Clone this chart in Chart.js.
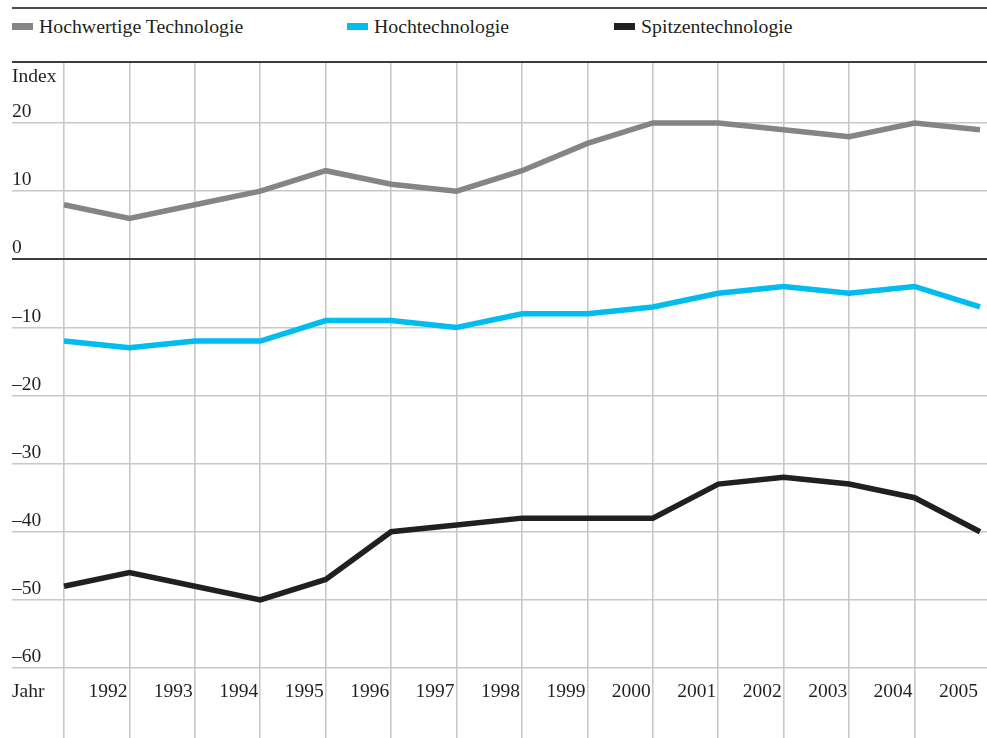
<!DOCTYPE html>
<html>
<head>
<meta charset="utf-8">
<script src="https://cdn.jsdelivr.net/npm/chart.js@4/dist/chart.umd.min.js"></script>
<style>
    body { margin: 0; background: #fff; }
    #wrap { position: relative; width: 987px; height: 738px; }
    #topline { position: absolute; left: 12px; right: 0; top: 7px; border-top: 2px solid #4a4a4a; }
    .leg { position: absolute; top: 15px; height: 22px; display: flex; align-items: center;
           font-family: 'Liberation Serif', 'Times New Roman', serif; font-size: 19.8px;
           color: #231f20; white-space: nowrap; }
    .leg i { display: inline-block; width: 21px; height: 7px; margin-right: 6px; }
    canvas { position: absolute; left: 0; top: 0; }
</style>
</head>
<body>
<div id="wrap">
    <div id="topline"></div>
    <div id="legend"></div>
    <canvas id="chart" width="987" height="738"></canvas>
</div>
<script>
const years = [1991, 1992, 1993, 1994, 1995, 1996, 1997, 1998, 1999, 2000, 2001, 2002, 2003, 2004, 2005];
const hochwertig = [8, 6, 8, 10, 13, 11, 10, 13, 17, 20, 20, 19, 18, 20, 19];
const hochtech = [-12, -13, -12, -12, -9, -9, -10, -8, -8, -7, -5, -4, -5, -4, -7];
const spitzen = [-48, -46, -48, -50, -47, -40, -39, -38, -38, -38, -33, -32, -33, -35, -40];
const yTicks = [-60, -50, -40, -30, -20, -10, 0, 10, 20];

const names = ['Hochwertige Technologie', 'Hochtechnologie', 'Spitzentechnologie'];
const colors = ['#848489', '#00bcef', '#231f20'];
const legendX = [12, 347, 614];

const FONT = { family: "'Liberation Serif', 'Times New Roman', serif", size: 19.5 };
const TEXT = '#231f20';
const GRID = '#c8c8c8';
const DARK = '#3c3c3c';
const Y_MAX = 28.954;
const Y_MIN = -70.275;

// legend as html
document.getElementById('legend').innerHTML = names.map((n, i) =>
    `<div class="leg" style="left:${legendX[i]}px"><i style="background:${colors[i]}"></i>${n}</div>`).join('');

const pts = arr => years.map((y, i) => ({ x: y, y: arr[i] }));

// year labels sit right-aligned on their grid line, under the -60 line
const axisText = {
    id: 'axisText',
    afterDraw(chart) {
        const c = chart.ctx;
        const xs = chart.scales.x;
        c.save();
        c.font = `${FONT.size}px ${FONT.family}`;
        c.fillStyle = TEXT;
        c.textBaseline = 'alphabetic';
        c.textAlign = 'left';
        c.fillText('Index', 12, 82);
        c.fillText('Jahr', 12, 697);
        c.textAlign = 'right';
        years.slice(1).forEach(y => c.fillText(String(y), xs.getPixelForValue(y) - 2, 697));
        c.restore();
    }
};

const noPad = s => { s.paddingTop = 0; s.paddingBottom = 0; s.paddingLeft = 0; s.paddingRight = 0; };

new Chart(document.getElementById('chart'), {
    type: 'line',
    data: {
        datasets: [hochwertig, hochtech, spitzen].map((arr, i) => ({
            label: names[i],
            data: pts(arr),
            borderColor: colors[i],
            borderWidth: 5.5,
            pointRadius: 0,
            tension: 0,
            borderJoinStyle: 'miter',
            borderCapStyle: 'butt'
        }))
    },
    options: {
        responsive: false,
        animation: false,
        layout: { padding: { left: 12, right: 0, top: 62, bottom: 0 } },
        plugins: { legend: { display: false }, tooltip: { enabled: false } },
        scales: {
            x: {
                type: 'linear',
                min: 1990.2053,
                max: 2005.107,
                afterBuildTicks: axis => { axis.ticks = years.slice(0, -1).map(v => ({ value: v })); },
                afterFit: s => { noPad(s); s.height = 0; },
                border: { display: false },
                grid: { color: GRID, lineWidth: 1.6, drawTicks: false },
                ticks: { display: false }
            },
            y: {
                min: Y_MIN,
                max: Y_MAX,
                afterBuildTicks: axis => { axis.ticks = yTicks.concat([Y_MAX]).map(v => ({ value: v })); },
                afterFit: s => { noPad(s); s.width = 0; },
                border: { display: false },
                grid: {
                    drawTicks: false,
                    color: c => (c.tick.value === 0 || c.tick.value > 25) ? DARK : GRID,
                    lineWidth: c => (c.tick.value === 0 || c.tick.value > 25) ? 2 : 1.6
                },
                ticks: {
                    mirror: true, padding: 0, labelOffset: -11,
                    font: FONT, color: TEXT,
                    callback: v => v > 25 ? '' : (v < 0 ? '\u2013' + (-v) : String(v))
                }
            }
        }
    },
    plugins: [axisText]
});
</script>
</body>
</html>
